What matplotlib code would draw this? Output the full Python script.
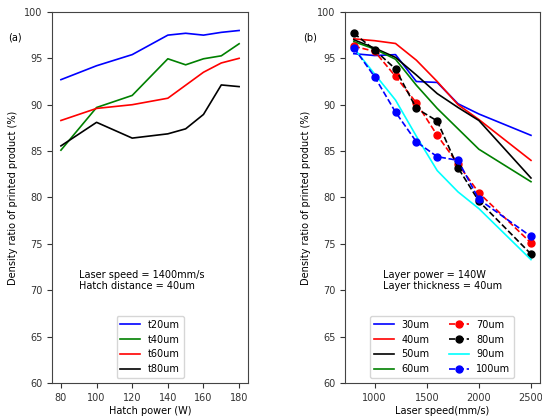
import matplotlib
matplotlib.use("Agg")
import matplotlib.pyplot as plt

# Left panel data
hatch_power = [80, 100, 120, 140, 150, 160, 170, 180]
t20 = [92.7, 94.2, 95.4, 97.5, 97.7, 97.5, 97.8, 98.0]
t40 = [85.1, 89.7, 91.0, 94.95, 94.3, 94.95, 95.27, 96.57]
t60 = [88.3, 89.6, 90.0, 90.7, 92.1, 93.5, 94.5, 95.0]
t80 = [85.56, 88.1, 86.4, 86.86, 87.4, 88.95, 92.13, 91.95]

# Right panel data
laser_speed = [800, 1000, 1200, 1400, 1600, 1800, 2000, 2500]
s30 = [95.5, 95.3, 95.4, 92.5, 92.4, 90.1, 89.0, 86.7]
s40 = [97.1, 96.9, 96.6, 94.8, 92.5, 90.0, 88.4, 84.0]
s50 = [97.0, 96.1, 95.1, 93.2, 91.2, 89.7, 88.3, 82.1]
s60 = [96.8, 96.0, 94.9, 92.1, 89.6, 87.4, 85.2, 81.7]
s70 = [96.3, 95.75, 93.05, 90.2, 86.7, 83.6, 80.5, 75.1]
s80 = [97.7, 95.9, 93.85, 89.6, 88.25, 83.2, 79.6, 73.9]
s90 = [96.1, 93.3, 90.5, 86.6, 82.9, 80.6, 78.8, 73.3]
s100 = [96.15, 93.0, 89.2, 86.0, 84.4, 84.0, 79.8, 75.8]

fs = 7
plt.rcParams['font.size'] = fs
fig = plt.figure(figsize=(5.42, 4.16), dpi=100)
ax1 = fig.add_axes([0.096, 0.0793, 0.3616, 0.892])
ax2 = fig.add_axes([0.6365, 0.0793, 0.3595, 0.892])

lw = 1.2
ax1.plot(hatch_power, t20, color='b', lw=lw, label='t20um')
ax1.plot(hatch_power, t40, color='g', lw=lw, label='t40um')
ax1.plot(hatch_power, t60, color='r', lw=lw, label='t60um')
ax1.plot(hatch_power, t80, color='k', lw=lw, label='t80um')
ax1.set_ylim(60, 100)
ax1.set_xticks([80, 100, 120, 140, 160, 180])
ax1.set_xlabel('Hatch power (W)', fontsize=fs, labelpad=2)
ax1.set_ylabel('Density ratio of printed product (%)', fontsize=fs)
ax1.tick_params(labelsize=fs, colors='#333333')
ax1.text(90, 70.1, 'Laser speed = 1400mm/s\nHatch distance = 40um', fontsize=fs)
ax1.legend(loc='lower center', fontsize=fs)

ms = 5
ax2.plot(laser_speed, s30, color='b', lw=lw, label='30um')
ax2.plot(laser_speed, s40, color='r', lw=lw, label='40um')
ax2.plot(laser_speed, s50, color='k', lw=lw, label='50um')
ax2.plot(laser_speed, s60, color='g', lw=lw, label='60um')
ax2.plot(laser_speed, s70, color='r', lw=lw, ls='--', marker='o', ms=ms, label='70um')
ax2.plot(laser_speed, s80, color='k', lw=lw, ls='--', marker='o', ms=ms, label='80um')
ax2.plot(laser_speed, s90, color='cyan', lw=lw, label='90um')
ax2.plot(laser_speed, s100, color='b', lw=lw, ls='--', marker='o', ms=ms, label='100um')
ax2.set_ylim(60, 100)
ax2.set_xticks([1000, 1500, 2000, 2500])
ax2.set_xlabel('Laser speed(mm/s)', fontsize=fs, labelpad=2)
ax2.set_ylabel('Density ratio of printed product (%)', fontsize=fs)
ax2.tick_params(labelsize=fs, colors='#333333')
ax2.text(1077, 70.1, 'Layer power = 140W\nLayer thickness = 40um', fontsize=fs)
ax2.legend(loc='lower center', ncol=2, fontsize=fs)

for ax in (ax1, ax2):
    for sp in ax.spines.values():
        sp.set_color('#444444')

fig.text(8/542, 1-40/416, '(a)', fontsize=fs)
fig.text(303/542, 1-40/416, '(b)', fontsize=fs)

fig.savefig('out.png', dpi=100)
